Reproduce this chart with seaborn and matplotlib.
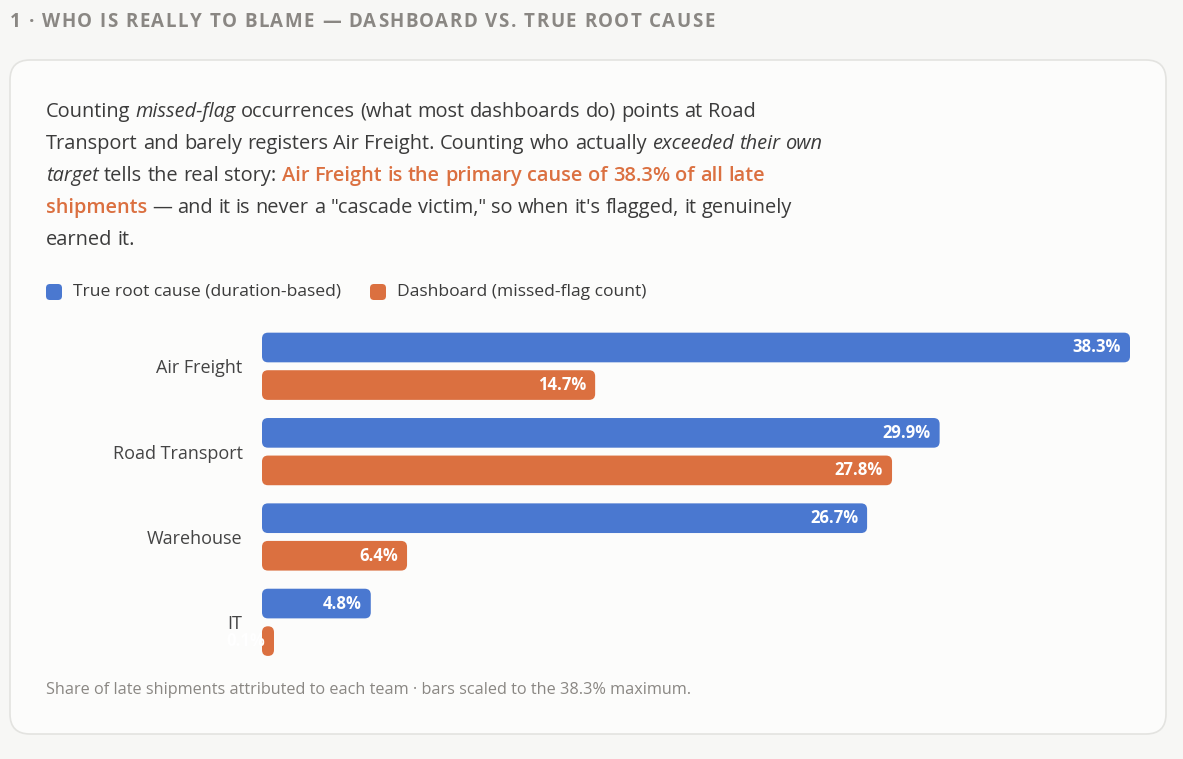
import matplotlib
matplotlib.use("Agg")
import matplotlib.pyplot as plt
from matplotlib.patches import FancyBboxPatch
import pandas as pd
import seaborn as sns

# data
teams = ["Air Freight", "Road Transport", "Warehouse", "IT"]
true_root = [38.3, 29.9, 26.7, 4.8]
dashboard = [14.7, 27.8, 6.4, 0.1]
series_names = ["True root cause (duration-based)", "Dashboard (missed-flag count)"]
x_max = 38.3

BLUE = "#4a78d0"
ORANGE = "#db7040"
BG = "#f7f7f5"
CARD = "#fcfcfb"
TEXT = "#3b3b3b"
MUTED = "#8a8783"

sns.set_theme(style="white")
plt.rcParams["font.family"] = ["Open Sans", "DejaVu Sans"]

W, H = 1183, 759
fig = plt.figure(figsize=(W / 100, H / 100), dpi=100, facecolor=BG)
renderer = fig.canvas.get_renderer()

# background axes in pixel coordinates
bg = fig.add_axes([0, 0, 1, 1], zorder=0)
bg.set_xlim(0, W)
bg.set_ylim(H, 0)
bg.axis("off")
bg.add_patch(FancyBboxPatch((10, 60), 1156, 674, boxstyle="round,pad=0,rounding_size=20",
                            fc=CARD, ec="#e3e3e0", lw=1.2))


def text_w(s, size, style):
    t = bg.text(0, 0, s, fontsize=size, **style)
    w = t.get_window_extent(renderer).width
    t.remove()
    return w


def put_tracked(x, y, s, size, tracking, style):
    ref = text_w("X", size, style)
    for c in s:
        if c != " ":
            bg.text(x, y, c, fontsize=size, va="baseline", **style)
        x += text_w(c + "X", size, style) - ref + tracking


def put_line(x, y, parts, size=14.4):
    for text, style in parts:
        words = text.split(" ")
        sp = text_w("x x", size, style) - text_w("xx", size, style)
        for i, word in enumerate(words):
            if word:
                t = bg.text(x, y, word, fontsize=size, va="baseline", **style)
                x += t.get_window_extent(renderer).width
            if i < len(words) - 1:
                x += sp


put_tracked(10, 27, "1 · WHO IS REALLY TO BLAME — DASHBOARD VS. TRUE ROOT CAUSE",
            13.5, 1.5, dict(color=MUTED, fontweight="bold"))

n = dict(color=TEXT)
it = dict(color=TEXT, style="italic")
hl = dict(color=ORANGE, fontweight="semibold")

lines = [
    [("Counting ", n), ("missed-flag", it), (" occurrences (what most dashboards do) points at Road", n)],
    [("Transport and barely registers Air Freight. Counting who actually ", n), ("exceeded their own", it)],
    [("target", it), (" tells the real story: ", n), ("Air Freight is the primary cause of 38.3% of all late", hl)],
    [("shipments", hl), (" — and it is never a \"cascade victim,\" so when it's flagged, it genuinely", n)],
    [("earned it.", n)],
]
for k, parts in enumerate(lines):
    put_line(46, 117 + 32 * k, parts)

# legend
for (lx, name, col) in [(46, series_names[0], BLUE), (370, series_names[1], ORANGE)]:
    bg.add_patch(FancyBboxPatch((lx, 284), 16, 16, boxstyle="round,pad=0,rounding_size=4",
                                fc=col, ec="none"))
    bg.text(lx + 27, 292, name, fontsize=12.6, color=TEXT, va="center")

bg.text(46, 694, "Share of late shipments attributed to each team · bars scaled to the 38.3% maximum.",
        fontsize=11.7, color=MUTED, va="baseline")

# chart axes
left, right, top, bottom = 262, 1130, 323.6, 665
ax = fig.add_axes([left / W, 1 - bottom / H, (right - left) / W, (bottom - top) / H], zorder=1)
ax.set_facecolor("none")

df = pd.DataFrame({
    "team": teams * 2,
    "share": true_root + dashboard,
    "measure": [series_names[0]] * len(teams) + [series_names[1]] * len(teams),
})
sns.barplot(data=df, x="share", y="team", hue="measure", hue_order=series_names,
            palette=[BLUE, ORANGE], orient="y", width=0.88, gap=0.21, legend=False, ax=ax)

ax.set_xlim(0, x_max)
ax.set_ylim(len(teams) - 0.5, -0.5)
for s in ax.spines.values():
    s.set_visible(False)
ax.set_xticks([])
ax.set_xlabel("")
ax.set_ylabel("")
ax.tick_params(axis="y", length=0, pad=14, labelsize=13, labelcolor="#444444")

x_per_px = x_max / (right - left)
y_per_px = len(teams) / (bottom - top)
radius = 6 * x_per_px
min_w = 12 * x_per_px

for cont, col in zip(ax.containers, [BLUE, ORANGE]):
    for patch, val in zip(cont.patches, cont.datavalues):
        x0, y0, h = patch.get_x(), patch.get_y(), patch.get_height()
        w = max(patch.get_width(), min_w)
        patch.set_visible(False)
        ax.add_patch(FancyBboxPatch((x0, y0), w, h,
                                    boxstyle=f"round,pad=0,rounding_size={radius}",
                                    mutation_aspect=y_per_px / x_per_px,
                                    fc=col, ec="none", clip_on=False))
        ax.annotate(f"{val:.1f}%", (x0 + w, y0 + h / 2), xytext=(-9, 0),
                    textcoords="offset pixels", ha="right", va="center",
                    color="white", fontsize=12, fontweight="bold", annotation_clip=False)

fig.savefig("out.png", dpi=100, facecolor=BG)
